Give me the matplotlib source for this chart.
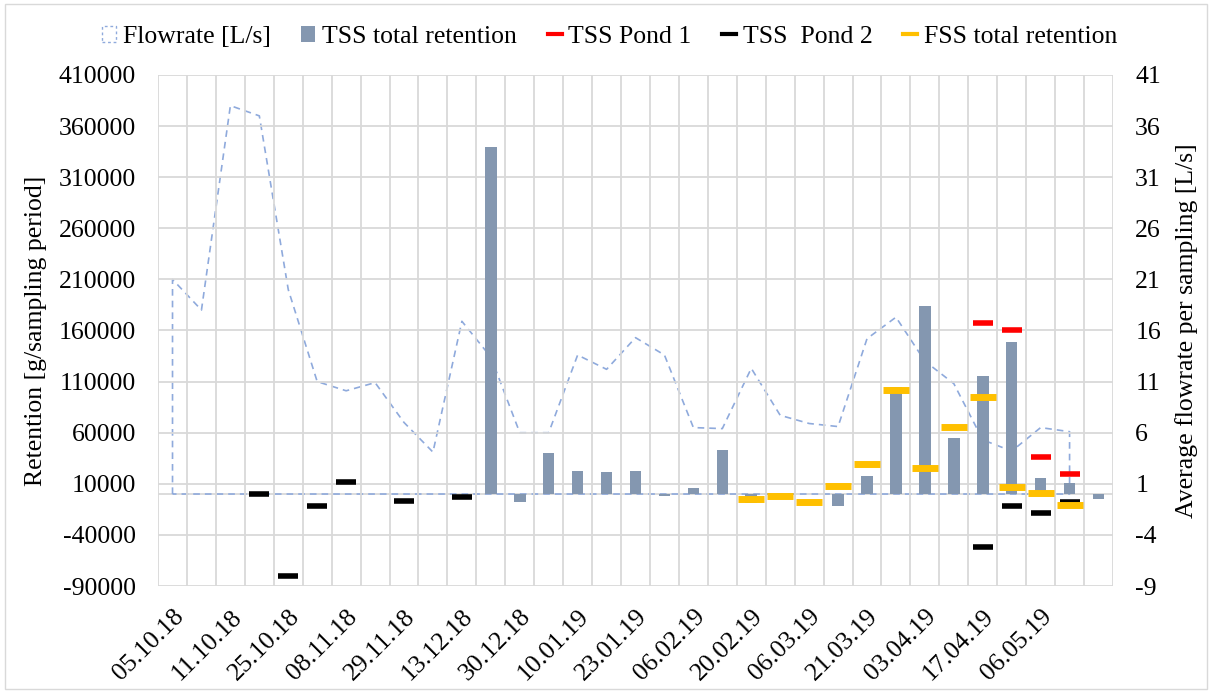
import numpy as np
import matplotlib
matplotlib.use("Agg")
import matplotlib.pyplot as plt
from matplotlib.lines import Line2D
from matplotlib.patches import Rectangle

plt.rcParams['font.family'] = ['Liberation Serif', 'DejaVu Serif']
plt.rcParams['font.size'] = 18.5
plt.rcParams['axes.unicode_minus'] = False

nan = np.nan
# 33 sampling periods, every other one labelled
tick_labels = ['05.10.18', '11.10.18', '25.10.18', '08.11.18', '29.11.18', '13.12.18',
               '30.12.18', '10.01.19', '23.01.19', '06.02.19', '20.02.19', '06.03.19',
               '21.03.19', '03.04.19', '17.04.19', '06.05.19']
n_periods = 33

# average flowrate [L/s], periods 1..32
flowrate = [21, 18, 38, 37, 20, 11, 10.1, 10.9, 7, 4.1, 16.9, 13.4, 6, 6, 13.6, 12.2,
            15.3, 13.6, 6.5, 6.4, 12.3, 7.7, 6.9, 6.6, 15.2, 17.3, 13, 10.8, 5.3, 4.2, 6.5, 6.1]

# retention [g/sampling period]
tss_total = [nan, nan, nan, nan, nan, nan, nan, nan, nan, nan, nan,
             340000, -8000, 40000, 23000, 22000, 23000, -2000, 6000, 43500, -9000,
             nan, nan, -12000, 17700, 105000, 184000, 55000, 115000, 149000, 16000, 10600, -4700]
tss_pond1 = [nan] * 28 + [167500, 160700, 36000, 20000, nan]
tss_pond2 = [nan, nan, nan, 500, -80000, -11300, 11500, nan, -7000, nan, -2800,
             nan, nan, nan, nan, nan, nan, nan, nan, nan, nan, nan, nan, nan, nan, nan, nan, nan,
             -51800, -11300, -18500, -7400, nan]
fss_total = [nan] * 20 + [-5100, -1800, -7700, 8000, 29500, 101300, 25300, 65400, 95000,
                          6700, 800, -10700, nan]

bar_col = '#8497B0'
flow_col = '#8FAADC'
grid_col = '#D9D9D9'

fig = plt.figure(figsize=(12.12, 6.93), dpi=100)
fig.subplots_adjust(left=0.1304, right=0.9183, top=0.8918, bottom=0.1544)
ax = fig.add_subplot(111)
ax2 = ax.twinx()
ax.set_zorder(ax2.get_zorder() + 1)
ax.patch.set_visible(False)

x = np.arange(n_periods)
xf = np.arange(len(flowrate))

# flowrate on secondary axis (drawn beneath)
ax2.axhline(0, color=grid_col, lw=1.3, zorder=1)
fx = np.concatenate([[xf[0]], xf, [xf[-1], xf[0]]])
fy = np.concatenate([[0], flowrate, [0, 0]])
ax2.plot(fx, fy, color=flow_col, lw=1.2, ls=(0, (4, 3)), zorder=2)
ax2.set_ylim(-9, 41)
ax2.set_yticks(np.arange(-9, 42, 5))
ax2.set_ylabel('Average flowrate per sampling [L/s]', labelpad=10)

# retention on primary axis
ax.bar(x, tss_total, width=0.4, color=bar_col, zorder=3)
ax.plot(x, tss_pond1, ls='none', marker='_', ms=15, mew=4, color='#FF0000', zorder=4)
ax.plot(x, tss_pond2, ls='none', marker='_', ms=15, mew=4, color='#000000', zorder=4)
ax.plot(x, fss_total, ls='none', marker='_', ms=19, mew=5, color='#FFC000', zorder=5)

ax.set_ylim(-90000, 410000)
ax.set_yticks(np.arange(-90000, 410001, 50000))
ax.set_xlim(-0.5, n_periods - 0.5)
ax.set_xticks(np.arange(0, 2 * len(tick_labels), 2))
ax.set_xticklabels(tick_labels, rotation=45, ha='right', rotation_mode='anchor')
ax.set_xticks(np.arange(-0.5, n_periods, 1), minor=True)
ax.set_ylabel('Retention [g/sampling period]', labelpad=8)

ax.grid(True, which='minor', axis='x', color=grid_col, lw=1.3)
ax.grid(True, which='major', axis='y', color=grid_col, lw=1.3)
ax.set_axisbelow(True)
for a in (ax, ax2):
    for s in a.spines.values():
        s.set_visible(False)
ax.tick_params(axis='both', which='both', length=0)
ax.tick_params(axis='y', pad=16)
ax.tick_params(axis='x', pad=14)
ax2.tick_params(axis='y', length=0, pad=16)

handles = [
    Rectangle((0, 0), 1, 1, facecolor='none', edgecolor=flow_col, ls=(0, (2, 2)), lw=1),
    Rectangle((0, 0), 1, 1, facecolor=bar_col, edgecolor='none'),
    Line2D([], [], color='#FF0000', lw=3),
    Line2D([], [], color='#000000', lw=3),
    Line2D([], [], color='#FFC000', lw=3),
]
labels = ['Flowrate [L/s]', 'TSS total retention', 'TSS Pond 1', 'TSS  Pond 2', 'FSS total retention']
fig.legend(handles, labels, loc='center', bbox_to_anchor=(0.503, 0.947), ncol=5, frameon=False,
           handlelength=0.55, handleheight=0.6, handletextpad=0.25, columnspacing=1.2)

fig.patches.append(Rectangle((0.004, 0.006), 0.992, 0.988, transform=fig.transFigure,
                             facecolor='none', edgecolor=grid_col, lw=1))

fig.savefig('out.png', dpi=100)
